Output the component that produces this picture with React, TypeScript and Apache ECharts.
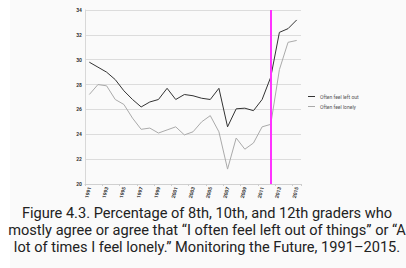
import React, { useEffect, useRef } from "react";
import * as echarts from "echarts";

const years = [
  "1991", "1992", "1993", "1994", "1995", "1996", "1997", "1998", "1999", "2000",
  "2001", "2002", "2003", "2004", "2005", "2006", "2007", "2008", "2009", "2010",
  "2011", "2012", "2013", "2014", "2015",
];
const leftOut = [
  29.8, 29.4, 29.0, 28.4, 27.5, 26.8, 26.2, 26.6, 26.8, 27.7,
  26.8, 27.2, 27.1, 26.9, 26.8, 27.7, 24.6, 26.05, 26.1, 25.9,
  26.8, 28.6, 32.2, 32.5, 33.2,
];
const lonely = [
  27.2, 28.0, 27.9, 26.8, 26.4, 25.3, 24.4, 24.5, 24.1, 24.35,
  24.6, 23.95, 24.2, 25.0, 25.5, 24.2, 21.2, 23.7, 22.8, 23.3,
  24.6, 24.8, 29.2, 31.4, 31.55,
];
const seriesNames = ["Often feel left out", "Often feel lonely"];
const markYear = "2012";
const captionLines = [
  "Figure 4.3. Percentage of 8th, 10th, and 12th graders who",
  "mostly agree or agree that \u201cI often feel left out of things\u201d or \u201cA",
  "lot of times I feel lonely.\u201d Monitoring the Future, 1991\u20132015.",
];

export default function App() {
  const ref = useRef<HTMLDivElement>(null);
  useEffect(() => {
    if (!ref.current) return;
    const chart = echarts.init(ref.current, undefined, { renderer: "svg" });
    chart.setOption({
      animation: false,
      backgroundColor: "#ffffff",
      grid: { left: 85, right: 105, top: 10, bottom: 84 },
      legend: {
        left: 303,
        top: 89,
        orient: "vertical",
        itemWidth: 7,
        itemHeight: 1,
        itemGap: 5,
        icon: "rect",
        textStyle: { fontSize: 5, color: "#555", fontFamily: "Roboto" },
        data: seriesNames,
      },
      xAxis: {
        type: "category",
        data: years,
        boundaryGap: true,
        axisLine: { lineStyle: { color: "#d0d0d0" } },
        axisTick: { show: true, interval: 1, length: 2, lineStyle: { color: "#ccc" } },
        axisLabel: {
          interval: 1,
          rotate: 75,
          fontSize: 5,
          fontWeight: "bold",
          color: "#333",
          margin: 3,
          fontFamily: "Roboto",
        },
        splitLine: { show: false },
      },
      yAxis: {
        type: "value",
        min: 20,
        max: 34,
        interval: 2,
        axisLine: { show: true, lineStyle: { color: "#d8d8d8" } },
        axisTick: { show: false },
        axisLabel: { fontSize: 5, fontWeight: "bold", color: "#333", margin: 3, fontFamily: "Roboto" },
        splitLine: { lineStyle: { color: "#dcdcdc", width: 1 } },
      },
      series: [
        {
          name: seriesNames[0],
          type: "line",
          data: leftOut,
          symbol: "none",
          lineStyle: { color: "#333333", width: 1 },
          itemStyle: { color: "#333333" },
          z: 3,
          markLine: {
            silent: true,
            symbol: "none",
            label: { show: false },
            lineStyle: { color: "#ff33ff", width: 2, type: "solid" },
            data: [{ xAxis: markYear }],
          },
        },
        {
          name: seriesNames[1],
          type: "line",
          data: lonely,
          symbol: "none",
          lineStyle: { color: "#aaaaaa", width: 1 },
          itemStyle: { color: "#aaaaaa" },
          z: 2,
        },
      ],
      graphic: [
        {
          type: "rect",
          z: -10,
          silent: true,
          shape: { x: 10, y: 0, width: 396, height: 268 },
          style: { fill: "#fafafa" },
        },
        ...captionLines.map((t, i) => ({
          type: "text",
          x: 207,
          y: 213 + i * 17,
          style: {
            text: t,
            fill: "#222",
            font: "14.6px Roboto",
            textAlign: "center",
            textVerticalAlign: "middle",
          },
        })),
      ],
    });
    return () => chart.dispose();
  }, []);
  return (
    <div
      ref={ref}
      style={{ position: "fixed", left: 0, top: 0, width: 406, height: 268, overflow: "hidden" }}
    />
  );
}
